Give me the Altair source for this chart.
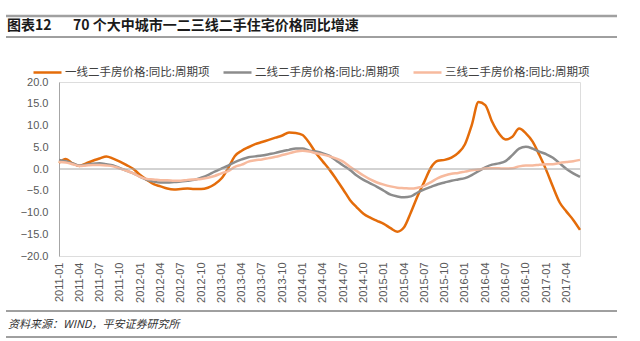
import altair as alt
import pandas as pd

# ---------------- data ----------------
months = [f"{y}-{m:02d}" for y in range(2011, 2018) for m in range(1, 13)][:78]

tick_labels = ["2011-01", "2011-04", "2011-07", "2011-10", "2012-01", "2012-04",
               "2012-07", "2012-10", "2013-01", "2013-04", "2013-07", "2013-10",
               "2014-01", "2014-04", "2014-07", "2014-10", "2015-01", "2015-04",
               "2015-07", "2015-10", "2016-01", "2016-04", "2016-07", "2016-10",
               "2017-01", "2017-04"]

y_ticks = [-20, -15, -10, -5, 0, 5, 10, 15, 20]

series_names = ["一线二手房价格:同比:周期项", "二线二手房价格:同比:周期项", "三线二手房价格:同比:周期项"]
series_colors = ["#E46C0A", "#8C8C8C", "#F7BA9E"]

tier1 = [1.4, 2.3, 1.3, 0.7, 1.3, 1.9, 2.4, 2.9, 2.4, 1.7,
         0.9, 0.0, -1.4, -2.5, -3.5, -4.0, -4.5, -4.7, -4.6, -4.5,
         -4.6, -4.6, -4.3, -3.5, -2.2, 0.2, 3.0, 4.2, 5.0, 5.7,
         6.2, 6.7, 7.2, 7.7, 8.4, 8.3, 7.8, 6.0, 3.6, 1.7,
         -0.2, -2.4, -4.7, -7.1, -8.8, -10.3, -11.2, -11.9, -12.6, -13.6,
         -14.4, -13.4, -10.0, -6.2, -2.9, 0.4, 1.9, 2.1, 2.6, 3.7,
         5.7, 10.1, 15.4, 14.7, 10.9, 8.2, 6.8, 7.4, 9.3, 8.2,
         6.3, 3.2, -0.2, -4.1, -7.7, -9.8, -11.7, -14.0]

tier2 = [2.1, 1.8, 1.3, 0.8, 1.0, 1.2, 1.3, 1.1, 0.8, 0.2,
         -0.4, -1.0, -1.8, -2.5, -2.9, -3.1, -3.1, -3.0, -2.9, -2.7,
         -2.5, -2.0, -1.4, -0.6, 0.1, 0.8, 1.6, 2.2, 2.7, 2.9,
         3.1, 3.4, 3.7, 4.1, 4.4, 4.7, 4.7, 4.2, 4.0, 3.6,
         3.0, 1.9, 0.8, -0.2, -1.5, -2.5, -3.3, -4.1, -5.0, -5.9,
         -6.3, -6.5, -6.3, -5.4, -4.7, -4.1, -3.5, -3.1, -2.7, -2.4,
         -2.1, -1.4, -0.5, 0.4, 1.0, 1.3, 1.8, 3.2, 4.7, 5.1,
         4.7, 4.0, 3.4, 2.6, 1.3, 0.0, -1.0, -1.8]

tier3 = [1.6, 1.5, 1.1, 0.7, 0.8, 0.9, 0.9, 0.8, 0.6, 0.1,
         -0.4, -1.0, -1.8, -2.3, -2.4, -2.6, -2.6, -2.7, -2.7, -2.5,
         -2.4, -2.3, -2.0, -1.6, -1.0, -0.5, 0.5, 1.0, 1.7, 2.0,
         2.2, 2.5, 2.8, 3.2, 3.6, 4.0, 4.2, 4.0, 3.6, 3.3,
         2.9, 2.4, 1.7, 0.5, -0.5, -1.5, -2.4, -3.1, -3.6, -4.0,
         -4.3, -4.4, -4.5, -4.3, -3.8, -3.0, -2.1, -1.5, -1.1, -0.9,
         -0.6, -0.3, -0.1, 0.1, 0.2, 0.15, 0.1, 0.15, 0.6, 0.8,
         0.8, 1.0, 1.1, 1.1, 1.4, 1.6, 1.8, 2.1]

title_label = "图表12"
title_text = "70 个大中城市一二三线二手住宅价格同比增速"
source_text = "资料来源：WIND，平安证券研究所"

# ---------------- build ----------------
rows = []
for name, vals in zip(series_names, [tier1, tier2, tier3]):
    for m, v in zip(months, vals):
        rows.append({"month": m, "value": v, "series": name})
df = pd.DataFrame(rows)

W, H = 521, 174
LAB = "#595959"

x_enc = alt.X("month:O", sort=months, title=None,
              scale=alt.Scale(type="point", padding=0),
              axis=alt.Axis(values=tick_labels, labelAngle=-90, domain=False, ticks=False,
                            labelPadding=6, labelFontSize=11, labelColor=LAB,
                            labelFont="Liberation Sans", grid=False, labelOverlap=False))
y_scale = alt.Scale(domain=[-20, 20], nice=False, zero=False)
y_axis = alt.Axis(values=y_ticks, tickCount=9, format=".1f", domain=True, domainColor="#A6A6A6",
                  ticks=False, grid=False, labelPadding=11, labelFontSize=11,
                  labelColor=LAB, labelFont="Liberation Sans", labelOverlap=False,
                  labelFlush=False)
y_enc = alt.Y("value:Q", title=None, scale=y_scale, axis=y_axis)
color_enc = alt.Color("series:N", sort=series_names,
                      scale=alt.Scale(domain=series_names, range=series_colors),
                      legend=alt.Legend(title=None, orient="none", legendX=-27, legendY=-25,
                                        direction="horizontal", symbolType="stroke",
                                        symbolSize=784, symbolStrokeWidth=2.5,
                                        labelFont="Noto Sans CJK SC", labelFontSize=11.5,
                                        labelColor="#404040", labelOffset=2,
                                        columnPadding=8, labelLimit=400))

lines = []
for name in series_names:
    lines.append(
        alt.Chart(df).transform_filter(alt.datum.series == name)
        .mark_line(interpolate="monotone", strokeWidth=2.5)
        .encode(x=x_enc, y=y_enc, color=color_enc)
    )

zero = alt.Chart(pd.DataFrame({"value": [0]})).mark_rule(color="#A6A6A6", strokeWidth=1).encode(
    y=alt.Y("value:Q", title=None, scale=y_scale, axis=y_axis))

one = pd.DataFrame({"t": [title_label]})
top_rule = alt.Chart(one).mark_rule(color="#A0A0A0", strokeWidth=2.5).encode(
    x=alt.value(-53), x2=alt.value(558), y=alt.value(-66))
mid_rule = alt.Chart(one).mark_rule(color="#404040", strokeWidth=1).encode(
    x=alt.value(-53), x2=alt.value(558), y=alt.value(-45))
title1 = alt.Chart(one).mark_text(align="left", baseline="middle", font="Noto Sans CJK SC",
                                  fontSize=14, fontWeight="bold", color="#1a1a1a").encode(
    x=alt.value(-52), y=alt.value(-56), text="t:N")
title2 = alt.Chart(pd.DataFrame({"t": [title_text]})).mark_text(
    align="left", baseline="middle", font="Noto Sans CJK SC",
    fontSize=14, fontWeight="bold", color="#1a1a1a").encode(
    x=alt.value(14), y=alt.value(-56), text="t:N")

bot1 = alt.Chart(one).mark_rule(color="#404040", strokeWidth=1).encode(
    x=alt.value(-53), x2=alt.value(558), y=alt.value(229))
bot2 = alt.Chart(one).mark_rule(color="#404040", strokeWidth=1).encode(
    x=alt.value(-53), x2=alt.value(558), y=alt.value(255))
src = alt.Chart(pd.DataFrame({"t": [source_text]})).mark_text(
    align="left", baseline="middle", font="Noto Sans CJK SC", fontSize=11,
    fontStyle="italic", color="#333333").encode(
    x=alt.value(-51), y=alt.value(243), text="t:N")

chart = alt.layer(*lines, zero, top_rule, mid_rule, title1, title2, bot1, bot2, src).properties(
    width=W, height=H,
    autosize=alt.AutoSizeParams(type="none"),
    padding={"left": 59, "top": 82, "right": 640 - 59 - W, "bottom": 341 - 82 - H},
).configure_view(stroke=None).configure(background="white")

chart.save("out.html", embed_options={"renderer": "svg", "actions": False})
